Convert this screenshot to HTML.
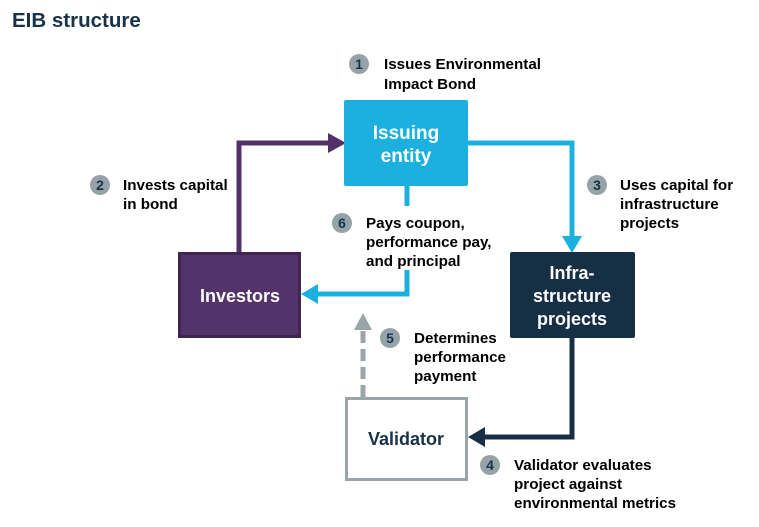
<!DOCTYPE html>
<html><head><style>
body{margin:0;width:759px;height:522px;background:#fff;font-family:"Liberation Sans",Arial,sans-serif;overflow:hidden}
</style></head><body>
<svg width="759" height="522" xmlns="http://www.w3.org/2000/svg" font-family="Liberation Sans, Arial, sans-serif" font-weight="bold">
<text x="12" y="27" font-size="20.5" fill="#17324a">EIB structure</text>
<polyline points="239,252 239,143 330,143" fill="none" stroke="#523168" stroke-width="5"/>
<polygon points="328,133 346,143 328,153" fill="#523168"/>
<polyline points="468,143 572,143 572,240" fill="none" stroke="#1cb0e0" stroke-width="5"/>
<polygon points="562,236 572,253 582,236" fill="#1cb0e0"/>
<line x1="407" y1="186" x2="407" y2="206" stroke="#1cb0e0" stroke-width="5"/>
<polyline points="407,270 407,294 314,294" fill="none" stroke="#1cb0e0" stroke-width="5"/>
<polygon points="318,284 301,294 318,304" fill="#1cb0e0"/>
<polyline points="572,338 572,437 482,437" fill="none" stroke="#172f45" stroke-width="5"/>
<polygon points="485,427 468,437 485,447" fill="#172f45"/>
<line x1="363" y1="397" x2="363" y2="326" stroke="#9aa5aa" stroke-width="5" stroke-dasharray="12,6"/>
<polygon points="354,330 363,313 372,330" fill="#9aa5aa"/>
<rect x="344" y="100" width="124" height="86" rx="2" fill="#1cb0e0"/>
<text x="406" y="139" font-size="19" fill="#fff" text-anchor="middle">Issuing</text>
<text x="406" y="162" font-size="19" fill="#fff" text-anchor="middle">entity</text>
<rect x="179.5" y="253.5" width="120" height="83" fill="#54336a" stroke="#3f2552" stroke-width="3"/>
<text x="240" y="302" font-size="18" fill="#fff" text-anchor="middle">Investors</text>
<rect x="510" y="252" width="125" height="86" rx="2" fill="#172f45"/>
<text x="572" y="279" font-size="18" fill="#fff" text-anchor="middle">Infra-</text>
<text x="572" y="302" font-size="18" fill="#fff" text-anchor="middle">structure</text>
<text x="572" y="325" font-size="18" fill="#fff" text-anchor="middle">projects</text>
<rect x="346.5" y="398.5" width="120" height="81" fill="#fff" stroke="#9aa5aa" stroke-width="3"/>
<text x="406" y="445" font-size="18" fill="#17324a" text-anchor="middle">Validator</text>
<g font-size="15.2" fill="#000">
<circle cx="359" cy="64" r="10" fill="#95a3a8"/><text x="359" y="69" text-anchor="middle" fill="#17324a" font-size="14">1</text>
<text x="384" y="69">Issues Environmental</text><text x="384" y="89">Impact Bond</text>
<circle cx="100" cy="185" r="10" fill="#95a3a8"/><text x="100" y="190" text-anchor="middle" fill="#17324a" font-size="14">2</text>
<text x="123" y="190">Invests capital</text><text x="123" y="209">in bond</text>
<circle cx="597" cy="185" r="10" fill="#95a3a8"/><text x="597" y="190" text-anchor="middle" fill="#17324a" font-size="14">3</text>
<text x="620" y="190">Uses capital for</text><text x="620" y="209">infrastructure</text><text x="620" y="228">projects</text>
<circle cx="342" cy="223" r="10" fill="#95a3a8"/><text x="342" y="228" text-anchor="middle" fill="#17324a" font-size="14">6</text>
<text x="366" y="228">Pays coupon,</text><text x="366" y="247">performance pay,</text><text x="366" y="266">and principal</text>
<circle cx="390" cy="338" r="10" fill="#95a3a8"/><text x="390" y="343" text-anchor="middle" fill="#17324a" font-size="14">5</text>
<text x="414" y="343">Determines</text><text x="414" y="362">performance</text><text x="414" y="381">payment</text>
<circle cx="490" cy="465" r="10" fill="#95a3a8"/><text x="490" y="470" text-anchor="middle" fill="#17324a" font-size="14">4</text>
<text x="514" y="470">Validator evaluates</text><text x="514" y="489">project against</text><text x="514" y="508">environmental metrics</text>
</g>
</svg>
</body></html>
